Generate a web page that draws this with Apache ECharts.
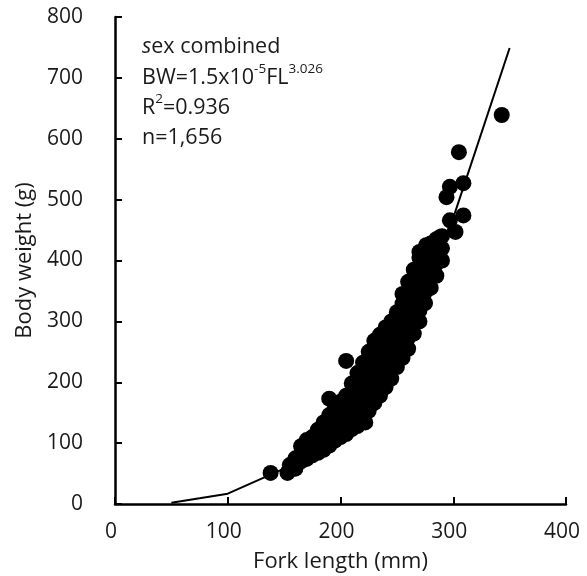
<!DOCTYPE html>
<html>
<head>
<meta charset="utf-8">
<script src="https://cdn.jsdelivr.net/npm/echarts@6/dist/echarts.min.js"></script>
<style>
html,body{margin:0;padding:0;background:#fff;}
#chart{width:587px;height:576px;}
</style>
</head>
<body>
<div id="chart"></div>
<script>
// Fitted curve values (Fork length mm, Body weight g)
var curveFL = [50, 100, 150, 200, 250, 300, 350];
var curveBW = [2, 17, 58, 138, 270, 470, 749];

var obsPoints = [
  [138,51],[153,51],[155,64],
  [160,58],[160,67],[160,75],
  [165,70],[165,82],[165,95],
  [170,74],[170,88],[170,105],
  [175,80],[175,95],[175,110],
  [180,84],[180,97],[180,110],[180,122],
  [185,89],[185,104],[185,119],[185,134],
  [190,96],[190,112],[190,129],[190,146],[190,173],
  [195,104],[195,122],[195,140],[195,158],
  [200,110],[200,129],[200,148],[200,168],
  [205,115],[205,131],[205,147],[205,163],[205,178],[205,235],
  [210,123],[210,142],[210,160],[210,180],[210,198],
  [215,128],[215,145],[215,162],[215,180],[215,198],[215,215],
  [220,140],[220,158],[220,176],[220,195],[220,213],[220,232],[222,134],
  [225,153],[225,172],[225,191],[225,211],[225,230],[225,250],
  [230,166],[230,185],[230,205],[230,226],[230,247],[230,268],
  [235,178],[235,198],[235,218],[235,238],[235,258],[235,278],
  [240,192],[240,212],[240,232],[240,251],[240,271],[240,290],
  [245,206],[245,225],[245,244],[245,263],[245,282],[245,300],
  [250,225],[250,243],[250,261],[250,279],[250,297],[250,315],
  [255,240],[255,258],[255,276],[255,294],[255,312],[255,329],[255,345],
  [260,255],[260,273],[260,291],[260,309],[260,327],[260,346],[260,365],
  [265,280],[265,298],[265,316],[265,334],[265,352],[265,370],[265,385],
  [270,300],[270,318],[270,336],[270,354],[270,372],[270,390],[270,405],[270,414],
  [275,330],[275,348],[275,366],[275,384],[275,402],[275,420],[276,425],
  [280,355],[280,373],[280,391],[280,410],[280,428],
  [285,375],[285,395],[285,414],[285,435],[288,438],
  [290,400],[290,420],[290,440],
  [297,466],[302,447],[309,474],[294,504],[297,521],[309,527],[305,578],
  [343,639]
];

var xTicks = [0, 100, 200, 300, 400];
var yTicks = [0, 100, 200, 300, 400, 500, 600, 700, 800];

var curveData = curveFL.map(function (x, i) { return [x, curveBW[i]]; });

var FONT = 'Open Sans';
var TXT = '#1a1a1a';
var chart = echarts.init(document.getElementById('chart'), null, {renderer: 'canvas'});
var axisCommon = {
  axisLine: {show: true, lineStyle: {color: '#000', width: 2.5}},
  axisTick: {show: true, inside: true, length: 7, lineStyle: {color: '#000', width: 2}},
  splitLine: {show: false},
  nameTextStyle: {color: TXT, fontFamily: FONT, fontSize: 22}
};
chart.setOption({
  animation: false,
  backgroundColor: '#fff',
  grid: {left: 115, right: 21, top: 17, bottom: 72, containLabel: false, outerBoundsMode: 'none'},
  xAxis: Object.assign({}, axisCommon, {
    type: 'value', min: xTicks[0], max: xTicks[xTicks.length - 1], interval: 100,
    name: 'Fork length (mm)', nameLocation: 'middle', nameGap: 47,
    axisLabel: {color: TXT, fontFamily: FONT, fontSize: 21, margin: 18, padding: [0, 8, 0, 0]}
  }),
  yAxis: Object.assign({}, axisCommon, {
    type: 'value', min: yTicks[0], max: yTicks[yTicks.length - 1], interval: 100,
    name: 'Body weight (g)', nameLocation: 'middle', nameGap: 73, nameRotate: 90,
    axisLabel: {color: TXT, fontFamily: FONT, fontSize: 21, margin: 32}
  }),
  series: [
    {
      type: 'scatter', data: obsPoints, symbol: 'circle', symbolSize: 16,
      itemStyle: {color: '#000', opacity: 1}, z: 2
    },
    {
      type: 'line', data: curveData, showSymbol: false, smooth: false,
      lineStyle: {color: '#000', width: 2}, z: 3
    }
  ],
  graphic: [
    {
      type: 'text', left: 142, top: 36,
      style: {
        text: '{i|s}{n|ex combined}\n{n|BW=1.5x10}{s|-5}{n|FL}{s|3.026}\n{n|R}{s|2}{n|=0.936}\n{n|n=1,656}',
        rich: {
          n: {fontFamily: FONT, fontSize: 21.5, fill: TXT, lineHeight: 30.4, verticalAlign: 'middle'},
          i: {fontFamily: FONT, fontSize: 21.5, fontStyle: 'italic', fill: TXT, lineHeight: 30.4, verticalAlign: 'middle'},
          s: {fontFamily: FONT, fontSize: 13.5, fill: TXT, lineHeight: 19, verticalAlign: 'top'}
        }
      }
    }
  ]
});
</script>
</body>
</html>
